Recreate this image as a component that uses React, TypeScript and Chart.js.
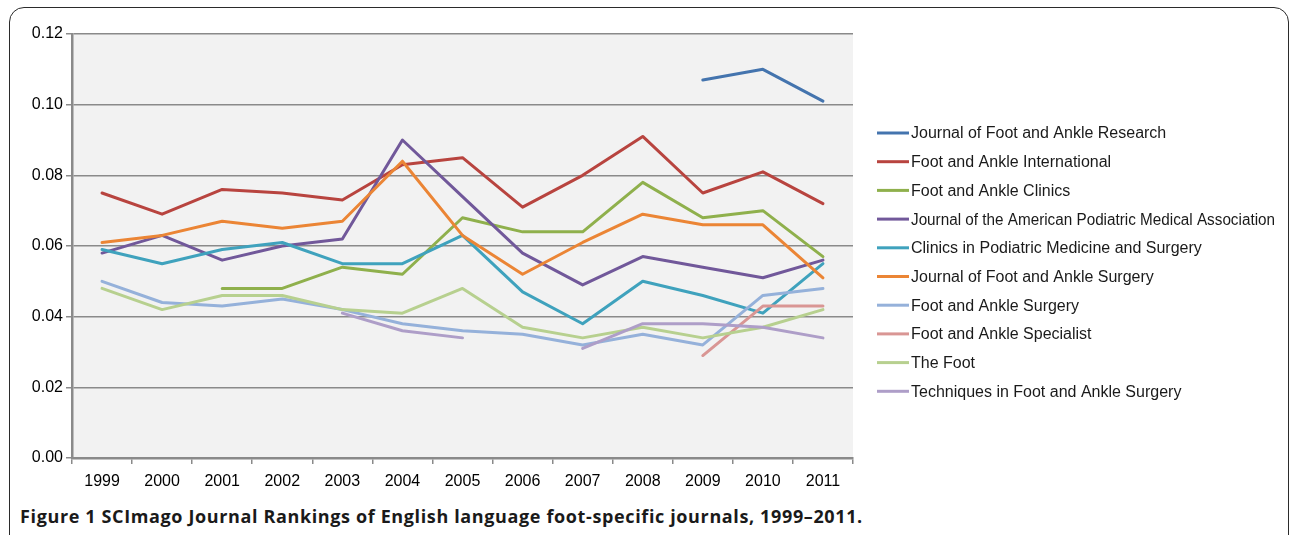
import React, { useEffect, useRef } from "react";
import { Chart, registerables } from "chart.js";

Chart.register(...registerables);

const years = ["1999", "2000", "2001", "2002", "2003", "2004", "2005", "2006", "2007", "2008", "2009", "2010", "2011"];

const seriesNames = [
  "Journal of Foot and Ankle Research",
  "Foot and Ankle International",
  "Foot and Ankle Clinics",
  "Journal of the American Podiatric Medical Association",
  "Clinics in Podiatric Medicine and Surgery",
  "Journal of Foot and Ankle Surgery",
  "Foot and Ankle Surgery",
  "Foot and Ankle Specialist",
  "The Foot",
  "Techniques in Foot and Ankle Surgery",
];

const jfar = [null, null, null, null, null, null, null, null, null, null, 0.107, 0.110, 0.101];
const fai = [0.075, 0.069, 0.076, 0.075, 0.073, 0.083, 0.085, 0.071, 0.080, 0.091, 0.075, 0.081, 0.072];
const fac = [null, null, 0.048, 0.048, 0.054, 0.052, 0.068, 0.064, 0.064, 0.078, 0.068, 0.070, 0.057];
const japma = [0.058, 0.063, 0.056, 0.060, 0.062, 0.090, 0.074, 0.058, 0.049, 0.057, 0.054, 0.051, 0.056];
const cpms = [0.059, 0.055, 0.059, 0.061, 0.055, 0.055, 0.063, 0.047, 0.038, 0.050, 0.046, 0.041, 0.055];
const jfas = [0.061, 0.063, 0.067, 0.065, 0.067, 0.084, 0.063, 0.052, 0.061, 0.069, 0.066, 0.066, 0.051];
const fas = [0.050, 0.044, 0.043, 0.045, 0.042, 0.038, 0.036, 0.035, 0.032, 0.035, 0.032, 0.046, 0.048];
const fasp = [null, null, null, null, null, null, null, null, null, null, 0.029, 0.043, 0.043];
const theFoot = [0.048, 0.042, 0.046, 0.046, 0.042, 0.041, 0.048, 0.037, 0.034, 0.037, 0.034, 0.037, 0.042];
const tech = [null, null, null, null, 0.041, 0.036, 0.034, null, 0.031, 0.038, 0.038, 0.037, 0.034];

const seriesValues = [jfar, fai, fac, japma, cpms, jfas, fas, fasp, theFoot, tech];

const seriesColors = [
  "#4474AE",
  "#B8443F",
  "#8FB04C",
  "#71589A",
  "#3FA2BD",
  "#EB8535",
  "#95B1DA",
  "#D99694",
  "#B7D08F",
  "#AE9EC8",
];

const yTicks = [0, 0.02, 0.04, 0.06, 0.08, 0.1, 0.12];

const FONT = "'Liberation Sans', Arial, sans-serif";

const plotBg = {
  id: "plotBg",
  beforeDraw(chart: any) {
    const { ctx, chartArea } = chart;
    ctx.save();
    ctx.fillStyle = "#f2f2f2";
    ctx.fillRect(chartArea.left, chartArea.top, chartArea.right - chartArea.left, chartArea.bottom - chartArea.top);
    ctx.restore();
  },
};

const sideLegend = {
  id: "sideLegend",
  afterDraw(chart: any) {
    const { ctx } = chart;
    ctx.save();
    chart.data.datasets.forEach((ds: any, i: number) => {
      const y = 133 + i * 28.7;
      ctx.strokeStyle = ds.borderColor;
      ctx.lineWidth = 3;
      ctx.lineCap = "butt";
      ctx.beginPath();
      ctx.moveTo(877, y);
      ctx.lineTo(909, y);
      ctx.stroke();
      ctx.fillStyle = "#1a1a1a";
      ctx.font = `16px ${FONT}`;
      ctx.textBaseline = "middle";
      ctx.textAlign = "left";
      ctx.fillText(ds.label, 911, y + 1, 1275 - 911);
    });
    ctx.restore();
  },
};

export default function App() {
  const ref = useRef<HTMLCanvasElement | null>(null);

  useEffect(() => {
    if (!ref.current) return;
    const n = seriesNames.length;
    const chart = new Chart(ref.current, {
      type: "line",
      data: {
        labels: years,
        datasets: seriesNames.map((name, i) => ({
          label: name,
          data: seriesValues[i],
          borderColor: seriesColors[i],
          backgroundColor: seriesColors[i],
          borderWidth: 3,
          pointRadius: 0,
          pointHoverRadius: 0,
          tension: 0,
          spanGaps: false,
          borderCapStyle: "round",
          borderJoinStyle: "round",
          order: n - i,
        })),
      },
      options: {
        animation: false,
        responsive: false,
        devicePixelRatio: 1,
        layout: { padding: { left: 0, top: 34, right: 437, bottom: 0 } },
        plugins: {
          legend: { display: false },
          tooltip: { enabled: false },
        },
        scales: {
          x: {
            type: "category",
            offset: true,
            afterFit(scale: any) {
              scale.height = 42;
            },
            grid: {
              offset: true,
              drawOnChartArea: false,
              drawTicks: true,
              tickLength: 6,
              color: "#8a8a8a",
              lineWidth: 1.5,
            },
            border: { display: true, color: "#8a8a8a", width: 2.5 },
            ticks: {
              color: "#000",
              font: { family: FONT, size: 16 },
              padding: 8,
              maxRotation: 0,
              autoSkip: false,
            },
          },
          y: {
            min: 0,
            max: 0.12,
            afterFit(scale: any) {
              scale.width = 72;
            },
            afterBuildTicks(scale: any) {
              scale.ticks = yTicks.map((v) => ({ value: v }));
            },
            grid: {
              color: "#8a8a8a",
              lineWidth: 1.5,
              drawTicks: true,
              tickLength: 6,
            },
            border: { display: true, color: "#8a8a8a", width: 2.5 },
            ticks: {
              color: "#000",
              font: { family: FONT, size: 16 },
              padding: 3,
              callback: (v: any) => Number(v).toFixed(2),
            },
          },
        },
      },
      plugins: [plotBg, sideLegend],
    });
    return () => chart.destroy();
  }, []);

  return (
    <div style={{ position: "fixed", left: 0, top: 0, width: 1290, height: 535, overflow: "hidden", background: "#fff" }}>
      <div
        style={{
          position: "absolute",
          left: 9,
          top: 7,
          width: 1280,
          height: 560,
          border: "1.5px solid #2b2b2b",
          borderRadius: 15,
          boxSizing: "border-box",
        }}
      />
      <canvas ref={ref} width={1290} height={500} style={{ position: "absolute", left: 0, top: 0, width: 1290, height: 500 }} />
      <div
        style={{
          position: "absolute",
          left: 20,
          top: 504,
          fontFamily: "'Open Sans', sans-serif",
          fontWeight: 700,
          fontSize: 18,
          letterSpacing: 0.63,
          color: "#1a1a1a",
          whiteSpace: "nowrap",
          lineHeight: "24px",
        }}
      >
        <span>Figure 1</span> SCImago Journal Rankings of English language foot-specific journals, 1999–2011.
      </div>
    </div>
  );
}
